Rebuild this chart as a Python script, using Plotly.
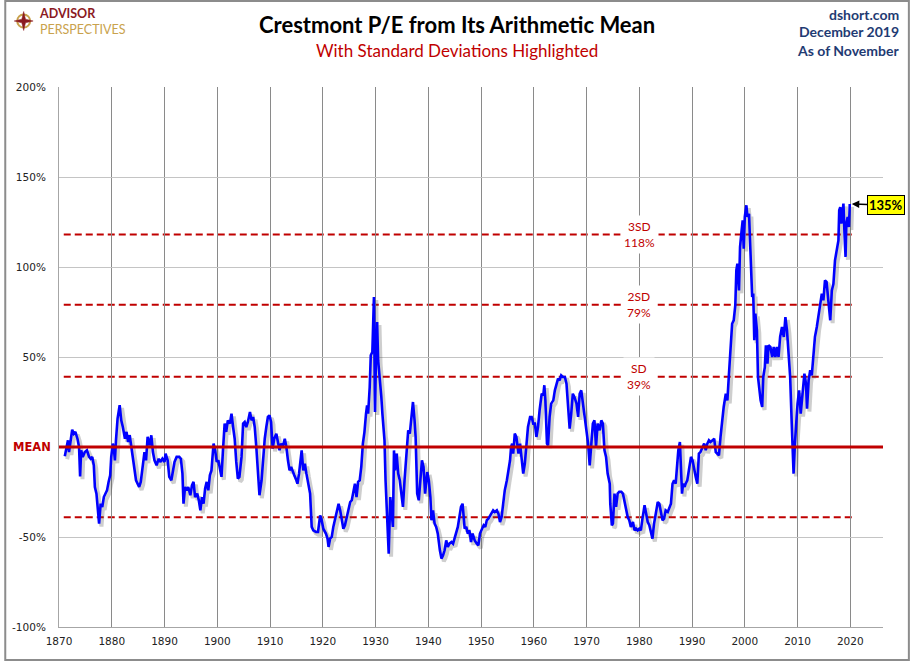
import math
import plotly.graph_objects as go

# ---------------- data ----------------
years = [
    1871.1, 1871.4, 1871.7, 1871.9, 1872.2, 1872.5, 1872.8, 1873.1, 1873.5, 1873.8,
    1874.0, 1874.2, 1874.5, 1874.9, 1875.3, 1875.7, 1876.0, 1876.3, 1876.6, 1876.8,
    1877.1, 1877.4, 1877.6, 1877.9, 1878.2, 1878.5, 1878.8, 1879.1, 1879.4, 1879.7,
    1879.9, 1880.2, 1880.4, 1880.6, 1880.8, 1881.1, 1881.5, 1881.8, 1882.1, 1882.5,
    1882.8, 1883.1, 1883.4, 1883.6, 1883.9, 1884.2, 1884.6, 1884.9, 1885.2, 1885.5,
    1885.9, 1886.2, 1886.5, 1886.8, 1887.2, 1887.5, 1887.8, 1888.1, 1888.5, 1888.9,
    1889.2, 1889.6, 1890.0, 1890.2, 1890.6, 1890.9, 1891.3, 1891.6, 1891.9, 1892.3,
    1892.8, 1893.1, 1893.4, 1893.6, 1893.9, 1894.2, 1894.5, 1894.9, 1895.2, 1895.5,
    1895.8, 1896.2, 1896.5, 1896.8, 1897.1, 1897.4, 1897.7, 1898.0, 1898.3, 1898.6,
    1898.9, 1899.1, 1899.3, 1899.6, 1899.9, 1900.2, 1900.5, 1900.8, 1901.1, 1901.4,
    1901.7, 1902.0, 1902.4, 1902.7, 1903.0, 1903.3, 1903.6, 1903.9, 1904.2, 1904.6,
    1904.9, 1905.2, 1905.5, 1905.8, 1906.2, 1906.5, 1906.8, 1907.1, 1907.4, 1907.7,
    1908.0, 1908.4, 1908.7, 1909.0, 1909.3, 1909.6, 1909.9, 1910.2, 1910.5, 1910.8,
    1911.2, 1911.5, 1911.8, 1912.1, 1912.4, 1912.8, 1913.1, 1913.4, 1913.7, 1914.0,
    1914.3, 1914.6, 1915.0,
    1915.2, 1915.5, 1916.0, 1916.3, 1916.6, 1916.9, 1917.2, 1917.6, 1917.9, 1918.2,
    1918.7, 1919.1, 1919.5, 1919.8, 1920.1, 1920.6, 1920.9, 1921.1, 1921.4, 1921.7,
    1922.0, 1922.3, 1922.7, 1923.0, 1923.3, 1923.6, 1923.9, 1924.2, 1924.5, 1924.9,
    1925.2, 1925.5, 1925.8, 1926.1, 1926.4, 1926.7, 1927.0, 1927.3, 1927.6, 1927.9,
    1928.2, 1928.4, 1928.6, 1928.9, 1929.1, 1929.4, 1929.7, 1929.9, 1930.1, 1930.3,
    1930.5, 1930.8, 1931.1, 1931.3, 1931.5, 1931.7, 1931.9, 1932.1, 1932.3, 1932.5,
    1932.8, 1933.0, 1933.3, 1933.5, 1933.7, 1934.0, 1934.3, 1934.6, 1934.9, 1935.2,
    1935.5, 1935.9, 1936.2, 1936.5, 1936.8, 1937.1, 1937.4, 1937.6, 1937.9, 1938.2,
    1938.5, 1938.8, 1939.1, 1939.4, 1939.8, 1940.1, 1940.4, 1940.6, 1940.9, 1941.2,
    1941.5, 1941.8, 1942.2, 1942.5, 1942.8, 1943.1, 1943.4, 1943.7, 1944.0, 1944.4,
    1944.7, 1945.0, 1945.3, 1945.6, 1945.9, 1946.2, 1946.5, 1946.7, 1946.9, 1947.2,
    1947.5, 1947.8, 1948.1, 1948.4, 1948.8, 1949.2, 1949.5, 1949.8, 1950.1, 1950.5,
    1950.8, 1951.1, 1951.4, 1951.7, 1952.0, 1952.3, 1952.6, 1953.0, 1953.3, 1953.6,
    1953.9, 1954.2, 1954.5, 1954.9, 1955.2, 1955.5, 1955.7, 1955.9, 1956.1, 1956.4,
    1956.7, 1957.1, 1957.4, 1957.7, 1958.0, 1958.3, 1958.6, 1958.9, 1959.3, 1959.6,
    1959.9, 1960.2, 1960.5, 1960.8, 1961.1, 1961.5, 1961.8, 1962.0, 1962.2,
    1962.5, 1962.7, 1963.0, 1963.3, 1963.7, 1964.0, 1964.3, 1964.6, 1964.9, 1965.2,
    1965.5, 1965.9, 1966.2, 1966.5, 1966.8, 1967.1, 1967.4, 1967.7, 1968.1, 1968.4,
    1968.7, 1969.0, 1969.3, 1969.6, 1970.0, 1970.3, 1970.6, 1970.9, 1971.2, 1971.5,
    1971.8, 1972.1, 1972.5, 1972.8, 1973.1, 1973.4, 1973.7, 1974.0, 1974.4, 1974.5,
    1974.8, 1975.0, 1975.3, 1975.6, 1975.9, 1976.2, 1976.6, 1976.9, 1977.2, 1977.5,
    1977.8, 1978.1, 1978.4, 1978.8, 1979.1, 1979.4, 1979.7, 1980.0, 1980.3, 1980.6,
    1981.0, 1981.3, 1981.6, 1981.9, 1982.2, 1982.5, 1982.8, 1983.2, 1983.5, 1983.8,
    1984.1, 1984.4, 1984.7, 1985.0, 1985.4, 1985.7, 1986.0, 1986.3, 1986.6, 1986.9,
    1987.2, 1987.4, 1987.7, 1987.9, 1988.1, 1988.3, 1988.6, 1988.8, 1989.1, 1989.4,
    1989.8, 1990.1, 1990.4, 1990.7, 1991.0, 1991.3, 1991.6, 1992.0, 1992.3, 1992.6,
    1992.9, 1993.2, 1993.5, 1993.9, 1994.2, 1994.5, 1994.8, 1995.1, 1995.4, 1995.7,
    1996.0, 1996.4, 1996.7, 1997.0, 1997.3, 1997.6, 1997.9, 1998.2, 1998.4, 1998.6,
    1998.9, 1999.1, 1999.4, 1999.6, 1999.8, 2000.0, 2000.3, 2000.5, 2000.8, 2001.0,
    2001.2, 2001.4, 2001.6, 2001.8, 2002.0, 2002.3, 2002.5, 2002.8, 2003.0, 2003.3,
    2003.5, 2003.8, 2004.0, 2004.3, 2004.5,
    2004.85, 2005.2, 2005.5, 2005.8, 2006.1, 2006.4, 2006.7, 2007.05, 2007.4, 2007.7,
    2008.0, 2008.3, 2008.6, 2008.9, 2009.1, 2009.25, 2009.5, 2009.75, 2010.0, 2010.3,
    2010.6, 2010.95, 2011.3, 2011.6, 2011.8, 2012.1, 2012.4, 2012.7, 2013.0, 2013.3,
    2013.65, 2014.0, 2014.3, 2014.6, 2014.9, 2015.2, 2015.5, 2015.85, 2016.2, 2016.5,
    2016.8, 2017.1, 2017.4, 2017.75, 2017.9, 2018.1, 2018.3, 2018.5, 2018.7, 2018.9,
    2019.1, 2019.25, 2019.5, 2019.75, 2019.9,
]

pe_dev = [
    -5.2, -0.9, 3.7, -2.8, 3.7, 9.6, 7.4, 8.4, 4.6, 0.0,
    -16.3, -1.8, -5.5, -2.8, -1.8, -5.5, -6.5, -5.5, -10.2, -22.2,
    -25.9, -38.9, -42.6, -31.5, -33.3, -27.8, -25.9, -24.1, -19.4, -15.7,
    -5.5, 1.9, -0.9, -7.4, 3.7, 15.8, 23.2, 14.8, 11.1, 4.6,
    8.4, 2.8, 6.5, 1.9, -2.8, -9.3, -18.5, -20.4, -22.2, -19.4,
    -8.3, -2.8, -7.4, 5.6, 0.9, 6.5, -2.8, -7.4, -10.2, -6.5,
    -8.3, -6.5, -8.3, -3.7, -7.4, -16.6, -18.5, -13.9, -8.3, -5.5,
    -5.5, -6.5, -14.8, -31.5, -22.2, -24.1, -22.2, -26.8, -21.3, -19.4,
    -27.8, -25.9, -29.6, -35.2, -27.8, -31.5, -23.1, -19.4, -24.1, -15.7,
    -13.0, -5.5, 1.9, -1.8, -8.3, -7.4, -13.0, -16.6, -0.9, 13.0,
    8.4, 14.8, 13.0, 18.5, 11.1, 4.6, -8.3, -17.6, -16.6, -5.5,
    13.0, 13.9, 11.1, 13.9, 19.5, 14.8, 16.7, 11.1, 0.0, -16.6,
    -26.8, -18.5, -5.5, 4.6, 11.1, 16.7, 17.6, 13.9, -0.9, 4.6,
    7.4, 2.8, -1.8, 1.9, 0.0, 4.6, 0.0, -7.4, -13.0, -11.1,
    -13.9, -15.7, -18.5,
    -20.4, -14.8, -1.9, -13.0, -9.3, -14.8, -20.4, -25.9, -44.4, -46.3,
    -47.2, -47.2, -38.0, -40.7, -45.4, -48.1, -50.9, -55.5, -50.9, -50.0,
    -44.4, -40.7, -35.2, -31.5, -35.2, -39.8, -45.4, -43.5, -39.8, -35.2,
    -30.6, -29.6, -24.1, -20.4, -27.8, -19.4, -18.5, -11.1, 1.9, 8.3,
    18.5, 23.1, 18.5, 33.3, 50.9, 52.8, 83.3, 19.4, 51.9, 69.4,
    48.1, 38.9, 27.8, 18.5, 7.4, 3.7, -18.5, -33.3, -40.7, -59.3,
    -27.8, -37.0, -44.4, -1.9, -13.0, -3.7, -14.8, -18.5, -25.9, -33.3,
    -18.5, -3.7, 9.3, 7.4, 18.5, 25.0, 14.8, 5.6, -25.9, -29.6,
    -18.5, -7.4, -11.1, -25.9, -13.9, -18.5, -27.8, -40.7, -35.2, -42.6,
    -44.4, -48.1, -57.4, -62.0, -60.2, -57.4, -51.9, -55.5, -53.7, -52.8,
    -53.7, -50.0, -48.1, -44.4, -38.9, -33.3, -31.5, -37.0, -45.4, -44.4,
    -48.1, -46.3, -52.8, -48.1, -51.9, -53.7, -54.6, -48.1, -46.3, -43.5,
    -44.4, -40.7, -39.8, -38.0, -37.0, -35.2, -36.1, -35.2, -37.0, -41.7,
    -38.9, -31.5, -24.1, -18.5, -13.0, -7.4, 0.0, 1.9, -3.7, 7.4,
    5.6, -3.7, 1.9, -7.4, -14.8, -9.3, 0.0, 11.1, 16.7, 16.7,
    13.0, 13.0, 5.6, 11.1, 20.4, 29.6, 28.7, 34.3, 25.9,
    1.9, 0.9, 16.7, 24.1, 25.9, 31.5, 35.2, 38.0, 37.0, 39.8,
    38.9, 38.9, 35.2, 24.1, 10.2, 18.5, 29.6, 27.8, 24.1, 16.7,
    29.6, 31.5, 24.1, 16.7, 7.4, 1.9, -10.2, 0.0, 13.0, 14.8,
    0.0, 13.0, 9.3, 14.8, 13.0, -1.8, -5.5, -14.8, -20.4, -31.5,
    -43.5, -42.6, -25.9, -33.3, -25.9, -24.9, -24.9, -25.9, -30.6, -35.2,
    -38.9, -40.7, -44.4, -41.7, -46.3, -45.4, -46.3, -45.4, -46.3, -39.8,
    -32.4, -37.0, -41.7, -43.5, -48.1, -50.9, -42.6, -35.2, -30.6, -31.5,
    -35.2, -40.7, -39.8, -35.2, -36.1, -33.3, -31.5, -20.4, -18.5, -20.4,
    -7.4, -1.8, 2.8, -16.7, -25.9, -20.4, -22.2, -20.4, -18.5, -12.9,
    -5.5, -7.4, -12.9, -16.7, -20.4, -3.7, -2.8, 0.0, 1.9, -1.8,
    1.9, 3.7, 2.8, 3.7, 4.6, -2.8, -3.7, -4.6, 5.6, 14.8,
    22.2, 29.6, 25.9, 40.7, 51.9, 68.5, 70.4, 78.7, 98.2, 101.9,
    87.0, 111.1, 120.4, 125.9, 110.2, 127.8, 134.3, 127.8, 129.6, 114.8,
    96.3, 83.3, 85.2, 59.3, 74.1, 64.8, 38.9, 29.6, 25.9, 22.2,
    38.9, 44.4, 56.5, 46.3, 56.5,
    55.6, 50.0, 55.6, 50.0, 55.6, 50.0, 61.1, 66.7, 61.1, 72.2,
    64.8, 53.7, 38.9, 13.0, -1.8, -14.8, 1.9, 16.7, 24.1, 31.5,
    18.5, 29.6, 40.7, 35.2, 21.3, 37.0, 42.6, 39.8, 50.0, 61.1,
    66.7, 73.1, 78.7, 85.2, 81.5, 92.6, 91.7, 79.6, 70.4, 87.0,
    90.7, 103.7, 109.3, 114.8, 131.5, 133.3, 124.1, 129.6, 135.2, 118.5,
    105.6, 124.1, 127.8, 122.2, 135.0,
]

sd_names = ["3SD", "2SD", "SD"]
sd_values = [118, 79, 39]
neg_sd_value = -39
mean_value = 0
label_year = 1980
latest_text = "135%"
x_tick_vals = list(range(1870, 2021, 10))
y_tick_vals = [-100, -50, 0, 50, 100, 150, 200]
y_tick_text = ["-100%", "-50%", "", "50%", "100%", "150%", "200%"]

# ---------------- layout helpers ----------------
W, H = 910, 661
L, R, T, B = 55, 27, 87, 34
PW, PH = W - L - R, H - T - B


def pxx(x):
    return (x - L) / PW


def pxy(y):
    return (H - B - y) / PH


RED = "#c00000"
fig = go.Figure()

# drop shadow of the line
fig.add_trace(go.Scatter(
    x=[v + 0.45 for v in years], y=[v - 1.6 for v in pe_dev], mode="lines",
    line=dict(color="rgba(80,80,80,0.28)", width=4), hoverinfo="skip", showlegend=False))
fig.add_trace(go.Scatter(
    x=years, y=pe_dev, mode="lines",
    line=dict(color="#0000ff", width=2.6), showlegend=False))

shapes = []
shapes.append(dict(type="line", xref="paper", x0=0, x1=1, yref="y", y0=mean_value, y1=mean_value,
                   line=dict(color=RED, width=3), layer="above"))
for v in sd_values + [neg_sd_value]:
    shapes.append(dict(type="line", xref="x", x0=years[0] - 0.2, x1=years[-1] + 1.0, yref="y", y0=v, y1=v,
                       line=dict(color=RED, width=2, dash="7px,4px"), layer="below"))
shapes.append(dict(type="rect", xref="paper", yref="paper", x0=pxx(1), x1=pxx(909), y0=pxy(1), y1=pxy(660),
                   line=dict(color="#8c8c8c", width=2), layer="above"))
# logo icon
cx, cy, ro, ri = 19.5, 21, 9.5, 2.6
pts = []
for k in range(8):
    ang = math.pi / 2 - k * math.pi / 4
    r = ro if k % 2 == 0 else ri
    pts.append((cx + r * math.cos(ang), cy - r * math.sin(ang)))
path = "M " + " L ".join(f"{pxx(a):.5f},{pxy(b):.5f}" for a, b in pts) + " Z"
shapes.append(dict(type="circle", xref="paper", yref="paper",
                   x0=pxx(cx - 6.5), x1=pxx(cx + 6.5), y0=pxy(cy + 6.5), y1=pxy(cy - 6.5),
                   line=dict(color="#c9a24d", width=2)))
shapes.append(dict(type="path", xref="paper", yref="paper", path=path,
                   fillcolor="#8b1a1f", line=dict(color="#8b1a1f", width=0.5)))

annotations = []
for name, v in zip(sd_names, sd_values):
    annotations.append(dict(x=label_year, y=v, xref="x", yref="y", text=f"{name}<br>{v}%",
                            showarrow=False, bgcolor="white", borderpad=3,
                            xanchor="center", yanchor="middle",
                            font=dict(family="Lato", size=12, color=RED)))
annotations.append(dict(x=pxx(49), y=mean_value, xref="paper", yref="y", text="<b>MEAN</b>",
                        xanchor="right", yanchor="middle", showarrow=False,
                        font=dict(family="DejaVu Sans", size=11.5, color=RED)))
annotations.append(dict(x=years[-1], y=pe_dev[-1], xref="x", yref="y", text=f"<b>{latest_text}</b>",
                        showarrow=True, ax=36, ay=1, axref="pixel", ayref="pixel",
                        arrowhead=2, arrowsize=1, arrowwidth=1.5, arrowcolor="black", standoff=2,
                        bgcolor="#ffff00", bordercolor="black", borderwidth=1, borderpad=1,
                        font=dict(family="Lato", size=13, color="black")))
annotations.append(dict(x=pxx(455), y=pxy(25), xref="paper", yref="paper",
                        xanchor="center", yanchor="middle",
                        text="<b>Crestmont P/E from Its Arithmetic Mean</b>", showarrow=False,
                        font=dict(family="Lato", size=22, color="black")))
annotations.append(dict(x=pxx(455), y=pxy(50), xref="paper", yref="paper",
                        xanchor="center", yanchor="middle",
                        text="With Standard Deviations Highlighted", showarrow=False,
                        font=dict(family="Lato", size=17, color=RED)))
for txt, yy in [("dshort.com", 14), ("December 2019", 32), ("As of November", 50)]:
    annotations.append(dict(x=pxx(901), y=pxy(yy), xref="paper", yref="paper",
                            xanchor="right", yanchor="middle",
                            text=f"<b>{txt}</b>", showarrow=False,
                            font=dict(family="Lato", size=14, color="#1f3b73")))
# logo text: one two-line annotation
annotations.append(dict(x=pxx(33), y=pxy(21), xref="paper", yref="paper",
                        xanchor="left", yanchor="middle", align="left",
                        text="<b><span style='color:#8b1a1f'>ADVISOR</span></b><br>"
                             "<span style='color:#c9a24d'>PERSPECTIVES</span>",
                        showarrow=False,
                        font=dict(family="Lato", size=12.5, color="#c9a24d")))

fig.update_layout(
    width=W, height=H, margin=dict(l=L, r=R, t=T, b=B),
    paper_bgcolor="white", plot_bgcolor="white",
    shapes=shapes, annotations=annotations, showlegend=False,
    xaxis=dict(range=[1870, 2026.2], tickmode="array", tickvals=x_tick_vals,
               ticktext=[str(v) for v in x_tick_vals], showgrid=True, gridcolor="#8a8a8a", gridwidth=1,
               showline=True, linecolor="#a6a6a6", linewidth=1, zeroline=False,
               ticks="outside", ticklen=4, tickcolor="rgba(0,0,0,0)",
               tickfont=dict(family="DejaVu Sans", size=10.5, color="#222")),
    yaxis=dict(range=[-100, 200], tickmode="array", tickvals=y_tick_vals, ticktext=y_tick_text,
               showgrid=True, gridcolor="#c4c4c4", gridwidth=1, zeroline=False,
               showline=True, linecolor="#a6a6a6", linewidth=1,
               ticks="outside", ticklen=10, tickcolor="rgba(0,0,0,0)",
               tickfont=dict(family="DejaVu Sans", size=10.5, color="#222")),
)

fig.write_html("out.html")
